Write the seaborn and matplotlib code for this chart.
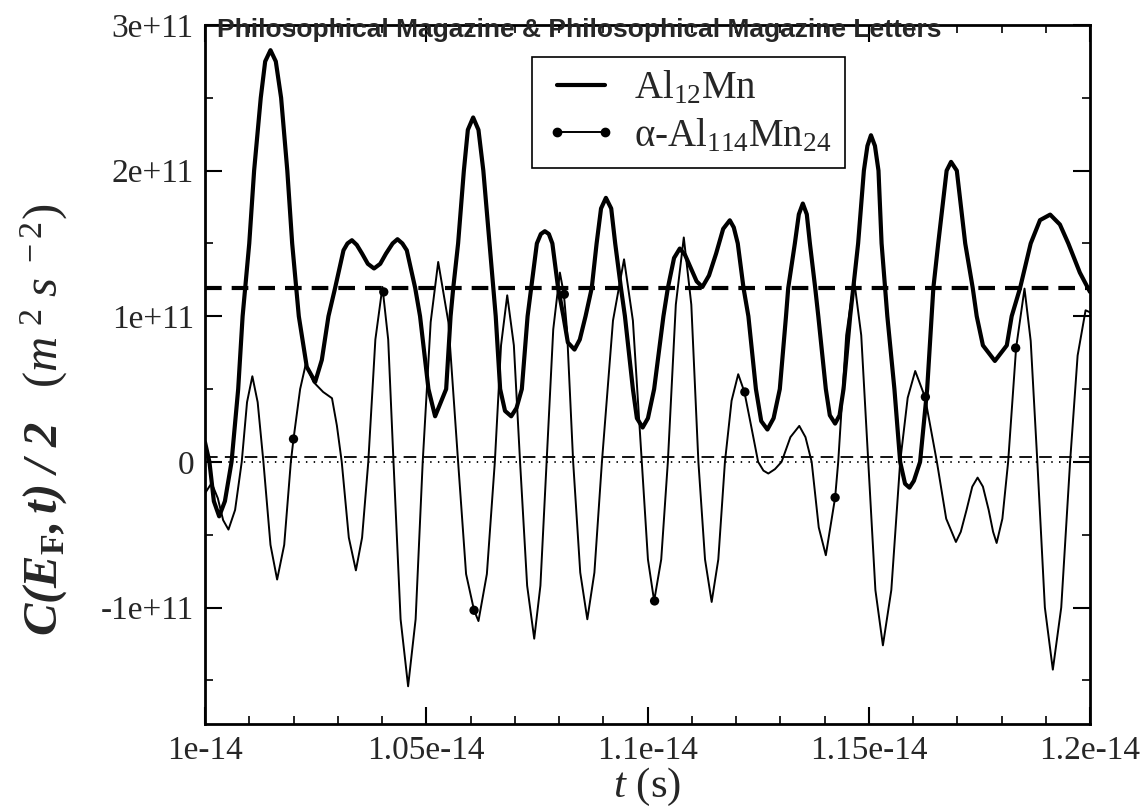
import numpy as np
import pandas as pd
import matplotlib
matplotlib.use('Agg')
import matplotlib.pyplot as plt
from matplotlib.lines import Line2D
from matplotlib.ticker import MultipleLocator, FixedLocator, FixedFormatter
import seaborn as sns

# values: t in units of 1e-14 s, C/2 in units of 1e11 m^2 s^-2
al12_t = [1.0000, 1.0010, 1.0020, 1.0032, 1.0045, 1.0060, 1.0075, 1.0085, 1.0100, 1.0111,
          1.0126, 1.0136, 1.0148, 1.0160, 1.0172, 1.0186, 1.0197, 1.0212, 1.0230, 1.0249,
          1.0264, 1.0279, 1.0294, 1.0313, 1.0322, 1.0332, 1.0343, 1.0355, 1.0368, 1.0382,
          1.0396, 1.0409, 1.0424, 1.0435, 1.0446, 1.0456,
          1.0475, 1.0486, 1.0505, 1.0520, 1.0545, 1.0555, 1.0561, 1.0572, 1.0585, 1.0594,
          1.0606, 1.0618, 1.0629, 1.0643, 1.0657, 1.0667, 1.0678, 1.0692, 1.0704, 1.0716,
          1.0729, 1.0750, 1.0759, 1.0768, 1.0777, 1.0785, 1.0798, 1.0810, 1.0820, 1.0835,
          1.0847, 1.0860, 1.0874, 1.0885, 1.0895, 1.0906, 1.0918, 1.0927, 1.0940, 1.0949,
          1.0967, 1.0976, 1.0989, 1.1001, 1.1015, 1.1036, 1.1046, 1.1060, 1.1073, 1.1085,
          1.1098, 1.1111, 1.1124, 1.1139, 1.1155, 1.1171, 1.1186, 1.1195, 1.1204, 1.1217,
          1.1228, 1.1245, 1.1257, 1.1271, 1.1285, 1.1299, 1.1313, 1.1318, 1.1333, 1.1342,
          1.1351, 1.1360, 1.1367, 1.1379, 1.1386, 1.1403, 1.1412, 1.1424, 1.1434, 1.1443,
          1.1458, 1.1465, 1.1476, 1.1489, 1.1497, 1.1505, 1.1514, 1.1522, 1.1529, 1.1537,
          1.1542, 1.1558, 1.1571, 1.1582, 1.1592, 1.1602, 1.1616, 1.1632, 1.1642, 1.1646,
          1.1657, 1.1676, 1.1686, 1.1699, 1.1718, 1.1735, 1.1744, 1.1758, 1.1785, 1.1812,
          1.1823, 1.1842, 1.1866, 1.1887, 1.1910, 1.1932, 1.1951, 1.1977, 1.2000]
al12_c = [0.135, 0.0, -0.27, -0.374, -0.27, 0.0, 0.5, 1.0, 1.5, 2.0,
          2.5, 2.75, 2.827, 2.75, 2.5, 2.0, 1.5, 1.0, 0.652, 0.549,
          0.7, 1.0, 1.194, 1.453, 1.50, 1.522, 1.49, 1.43, 1.36, 1.328,
          1.36, 1.43, 1.50, 1.529, 1.50, 1.453,
          1.194, 1.0, 0.5, 0.313, 0.5, 1.0, 1.194, 1.5, 2.0, 2.28,
          2.365, 2.28, 2.0, 1.5, 1.0, 0.5, 0.35, 0.313, 0.37, 0.5,
          1.0, 1.5, 1.565, 1.584, 1.565, 1.5, 1.194, 1.0, 0.82, 0.771,
          0.84, 1.0, 1.194, 1.5, 1.74, 1.813, 1.74, 1.5, 1.194, 1.0,
          0.5, 0.3, 0.236, 0.3, 0.5, 1.0, 1.194, 1.4, 1.465, 1.42,
          1.33, 1.24, 1.201, 1.28, 1.43, 1.6, 1.659, 1.61, 1.5, 1.194,
          1.0, 0.5, 0.28, 0.222, 0.3, 0.5, 1.0, 1.194, 1.5, 1.70,
          1.774, 1.70, 1.5, 1.194, 1.0, 0.5, 0.32, 0.263, 0.32, 0.5,
          1.0, 1.194, 1.5, 2.0, 2.17, 2.243, 2.17, 2.0, 1.5, 1.194,
          1.0, 0.5, 0.0, -0.15, -0.177, -0.13, 0.0, 0.5, 1.0, 1.194,
          1.5, 2.0, 2.06, 2.0, 1.5, 1.194, 1.0, 0.80, 0.693, 0.80,
          1.0, 1.194, 1.5, 1.66, 1.698, 1.63, 1.5, 1.3, 1.167]

alpha_t = [1.0000, 1.0015, 1.0029, 1.0041, 1.0053, 1.0068, 1.0083, 1.0095, 1.0107, 1.0119,
           1.0132, 1.0148, 1.0163, 1.0179, 1.0194, 1.0200, 1.0215, 1.0228, 1.0245, 1.0267,
           1.0287, 1.0298, 1.0309, 1.0325, 1.0341, 1.0355, 1.0369, 1.0385, 1.0401, 1.0414,
           1.0426, 1.0442, 1.0459, 1.0476, 1.0492, 1.0510, 1.0527, 1.0550, 1.0572, 1.0590,
           1.0608, 1.0618, 1.0637, 1.0655, 1.0669, 1.0683, 1.0698, 1.0712, 1.0728, 1.0744,
           1.0758, 1.0772, 1.0787, 1.0802, 1.0811, 1.0818, 1.0832, 1.0848, 1.0864, 1.0880,
           1.0897, 1.0922, 1.0947, 1.0967, 1.0987, 1.1001, 1.1015, 1.1031, 1.1046, 1.1064,
           1.1082, 1.1099, 1.1115, 1.1130, 1.1145, 1.1160, 1.1175, 1.1190, 1.1205, 1.1219,
           1.1234, 1.1250, 1.1262, 1.1273, 1.1288, 1.1303, 1.1323, 1.1343, 1.1357, 1.1371,
           1.1387, 1.1403, 1.1424, 1.1431, 1.1449, 1.1467, 1.1483, 1.1499, 1.1515, 1.1532,
           1.1551, 1.1571, 1.1588, 1.1605, 1.1627, 1.1654, 1.1675, 1.1697, 1.1708, 1.1721,
           1.1734, 1.1746, 1.1758, 1.1771, 1.1781, 1.1789, 1.1802, 1.1815, 1.1833, 1.1852,
           1.1866, 1.1881, 1.1898, 1.1916, 1.1935, 1.1955, 1.1972, 1.1990, 1.2000]
alpha_c = [-0.216, -0.145, -0.25, -0.40, -0.465, -0.33, 0.0, 0.41, 0.588, 0.41,
           0.0, -0.57, -0.808, -0.57, 0.0, 0.157, 0.5, 0.675, 0.549, 0.480,
           0.437, 0.25, 0.0, -0.52, -0.745, -0.52, 0.0, 0.84, 1.201, 0.84,
           0.0, -1.08, -1.541, -1.08, 0.0, 0.96, 1.373, 0.96, 0.0, -0.77,
           -1.019, -1.093, -0.77, 0.0, 0.80, 1.144, 0.80, 0.0, -0.85, -1.214,
           -0.85, 0.0, 0.91, 1.300, 1.151, 0.91, 0.0, -0.76, -1.081, -0.76,
           0.0, 0.97, 1.391, 0.97, 0.0, -0.67, -0.955, -0.67, 0.0, 1.08,
           1.541, 1.08, 0.0, -0.67, -0.962, -0.67, 0.0, 0.42, 0.602, 0.480,
           0.25, 0.0, -0.06, -0.080, -0.05, 0.0, 0.17, 0.247, 0.17, 0.0,
           -0.45, -0.641, -0.245, 0.0, 0.87, 1.247, 0.87, 0.0, -0.88, -1.260,
           -0.88, 0.0, 0.44, 0.624, 0.446, 0.0, -0.39, -0.550, -0.48, -0.33,
           -0.17, -0.108, -0.17, -0.33, -0.48, -0.557, -0.39, 0.0, 0.782, 1.190,
           0.83, 0.0, -1.0, -1.427, -1.0, 0.0, 0.73, 1.041, 1.027]

# symbols drawn on the alpha curve
mark_t = [1.0200, 1.0404, 1.0608, 1.0812, 1.1016, 1.1220, 1.1424, 1.1628, 1.1832]
mark_c = [0.157, 1.167, -1.019, 1.151, -0.955, 0.480, -0.245, 0.446, 0.782]

# horizontal reference levels
al12_mean = 1.194
alpha_mean = 0.036

xticks = [1.0, 1.05, 1.1, 1.15, 1.2]
xtick_labels = ['1e-14', '1.05e-14', '1.1e-14', '1.15e-14', '1.2e-14']
yticks = [-1, 0, 1, 2, 3]
ytick_labels = ['-1e+11', '0', '1e+11', '2e+11', '3e+11']

T, C = 1e-14, 1e11
df_al12 = pd.DataFrame({'t': np.array(al12_t) * T, 'c': np.array(al12_c) * C})
df_alpha = pd.DataFrame({'t': np.array(alpha_t) * T, 'c': np.array(alpha_c) * C})
df_mark = pd.DataFrame({'t': np.array(mark_t) * T, 'c': np.array(mark_c) * C})

sns.set_style('ticks')
plt.rcParams['font.family'] = ['Liberation Serif', 'DejaVu Serif']
plt.rcParams['mathtext.fontset'] = 'custom'
plt.rcParams['mathtext.rm'] = 'Liberation Serif'
plt.rcParams['mathtext.it'] = 'Liberation Serif:italic'
plt.rcParams['mathtext.bf'] = 'Liberation Serif:bold'
plt.rcParams['mathtext.bfit'] = 'Liberation Serif:italic:bold'

fig = plt.figure(figsize=(11.48, 8.08), dpi=100)
ax = fig.add_axes([205 / 1148, 1 - 724 / 808, 885 / 1148, 699 / 808])

ax.axhline(al12_mean * C, color='black', lw=3, dashes=(4, 2.4), zorder=1)
ax.axhline(alpha_mean * C, color='black', lw=1.3, dashes=(7, 4), zorder=1)
ax.axhline(0, color='black', lw=1.3, dashes=(0.8, 3.5), zorder=1)

sns.lineplot(data=df_alpha, x='t', y='c', ax=ax, color='black', linewidth=1.4,
             sort=False, estimator=None, zorder=2)
sns.lineplot(data=df_al12, x='t', y='c', ax=ax, color='black', linewidth=3,
             sort=False, estimator=None, zorder=3)
sns.scatterplot(data=df_mark, x='t', y='c', ax=ax, color='black', s=45,
                edgecolor='none', zorder=4)

ax.set_xlim(1.0 * T, 1.2 * T)
ax.set_ylim(-1.8 * C, 3.0 * C)
ax.xaxis.set_major_locator(FixedLocator([v * T for v in xticks]))
ax.xaxis.set_major_formatter(FixedFormatter(xtick_labels))
ax.xaxis.set_minor_locator(MultipleLocator(1e-16))
ax.yaxis.set_major_locator(FixedLocator([v * C for v in yticks]))
ax.yaxis.set_major_formatter(FixedFormatter(ytick_labels))
ax.yaxis.set_minor_locator(MultipleLocator(0.5 * C))

ax.tick_params(which='both', direction='in', top=True, right=True, color='black')
ax.tick_params(which='major', length=12, width=1.5, labelsize=24, pad=8)
ax.tick_params(which='minor', length=6, width=1.2)
for s in ax.spines.values():
    s.set_linewidth(2)
    s.set_color('black')

ax.set_xlabel(r'$t$ (s)', fontsize=31, labelpad=0)
ax.set_ylabel(r'$\mathbfit{C(E}_\mathbf{F}\mathbfit{,t)\ /\ 2}\ \ \ (m^{\ 2}\ s^{\ -2})$',
              fontsize=35)
ax.yaxis.set_label_coords(-0.152, 0.435)

handles = [Line2D([], [], color='black', lw=3),
           Line2D([], [], color='black', lw=1.4, marker='o', ms=6)]
labels = [r'Al$_{12}$Mn', r'α-Al$_{114}$Mn$_{24}$']
leg = ax.legend(handles, labels, loc='upper left', bbox_to_anchor=(0.370, 0.954),
                borderaxespad=0, frameon=True, fancybox=False, edgecolor='black',
                framealpha=1, numpoints=2, handlelength=1.83, handletextpad=0.46,
                borderpad=0.33, labelspacing=0.25, fontsize=28)
leg.get_frame().set_linewidth(1.2)

fig.text(217 / 1148, 1 - 30 / 808, 'Philosophical Magazine & Philosophical Magazine Letters',
         family='Liberation Sans', weight='bold', fontsize=19, ha='left', va='center')

fig.savefig('out.png', dpi=100)
